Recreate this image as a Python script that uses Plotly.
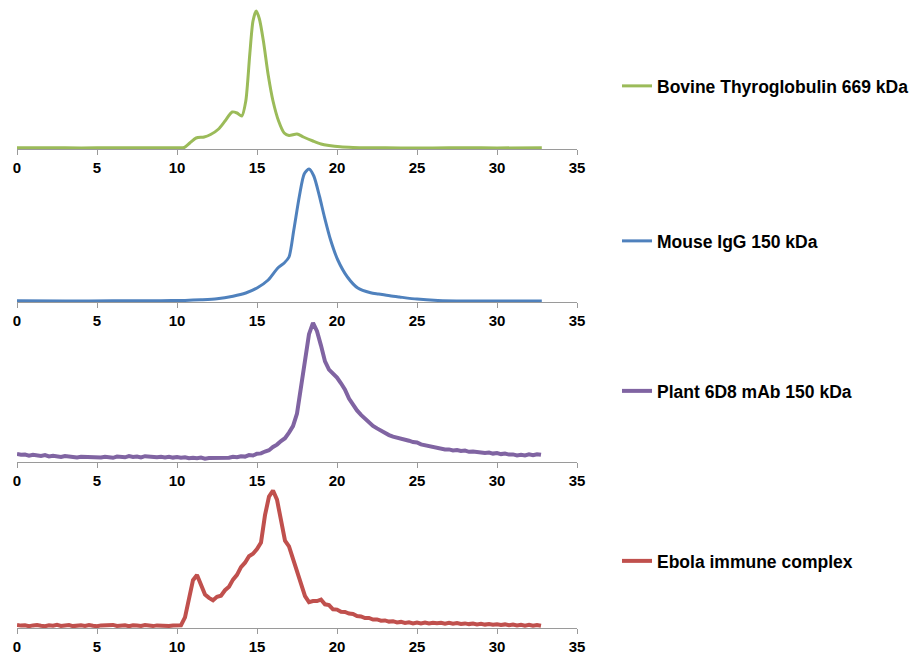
import plotly.graph_objects as go

# Size-exclusion elution profiles (elution volume, arbitrary detector units)

# --- Bovine Thyroglobulin 669 kDa (smooth trace) ---
thyro_t = [0, 2, 4, 6, 8, 10, 10.45, 10.8, 11.2, 11.7, 12.1, 12.6, 13.0, 13.45, 13.75,
           14.05, 14.3, 14.55, 14.75, 14.95, 15.15, 15.4, 15.7, 16.0, 16.35, 16.7, 17.0,
           17.5, 17.9, 18.5, 19.0, 19.5, 20.2, 21, 22, 24, 26, 28, 30, 32.8]
thyro_y = [1.2, 1.3, 1.1, 1.3, 1.2, 1.2, 1.5, 6, 11, 12, 14.5, 20, 28, 37, 36,
           33, 48, 95, 128, 138, 130, 108, 74, 48, 28, 16, 13.5,
           15, 12, 8, 5, 3.5, 2.2, 1.6, 1.3, 1.1, 1.1, 1.2, 1.1, 1.2]

# --- Mouse IgG 150 kDa (smooth trace) ---
igg_t = [0, 3, 6, 9, 10.5, 11.5, 12.5, 13.5, 14.3, 15, 15.7, 16.3, 16.7, 17.0, 17.3,
         17.65, 17.95, 18.25, 18.55, 18.9, 19.2, 19.6, 20.05, 20.65, 21.3, 22.1, 22.6,
         23.3, 23.9, 25, 26.3, 28, 30, 32.8]
igg_y = [1.2, 1.0, 1.2, 1.3, 1.6, 2.2, 3.2, 5.8, 9, 14, 22, 34, 39, 45, 72,
         106, 128, 133, 126, 106, 86, 62, 42, 25, 14, 9.3, 8,
         6.2, 5, 2.9, 1.6, 1.0, 0.9, 1.1]

# --- Plant 6D8 mAb 150 kDa (noisy trace, 0.25 sampling) ---
step = 0.25
mab_y = [8.0, 7.2, 7.5, 6.4, 7.3, 6.8, 6.1, 6.9, 5.6, 6.2, 5.9, 5.0, 6.0, 5.4, 5.8, 4.6,
         5.2, 4.9, 5.6, 4.3, 4.8, 4.5, 5.3, 4.9, 4.2, 5.4, 5.0, 4.7, 5.9, 5.1, 5.5, 4.6,
         5.8, 5.3, 5.6, 4.8, 5.2, 4.5, 5.3, 4.4, 4.9, 4.2, 4.8, 3.8, 4.3, 3.7, 4.4, 3.3,
         3.9, 3.8, 4.6, 3.9, 4.5, 4.2, 5.3, 4.7, 5.8, 5.4, 6.9, 6.5, 8.3, 8.6, 10.5, 11.8,
         15.0, 17.4, 21.0, 23.8, 29.4, 35.9, 48.5, 74.5, 104.5, 127.8,
         139.2, 130.8, 116.4, 100.6, 92.4, 88.3, 84.5, 78.7, 72.4, 63.5,
         57.3, 51.6, 47.1, 43.0, 39.3, 36.1, 33.6, 31.2, 29.4, 26.9,
         25.3, 24.5, 23.4, 22.8, 21.3, 19.9, 19.6, 17.6, 16.8, 15.2,
         15.0, 13.9, 13.6, 12.5, 12.6, 11.6, 12.0, 11.0, 11.4, 10.2,
         10.6, 9.9, 9.6, 9.0, 9.4, 8.4, 8.9, 7.9, 8.5, 7.4,
         7.6, 6.6, 7.3, 6.5, 7.7, 6.8, 7.8, 7.2]

# --- Ebola immune complex (noisy trace, 0.25 sampling) ---
ebola_y = [3.1, 2.4, 2.8, 1.9, 2.6, 3.0, 2.2, 1.8, 2.7, 2.3, 3.2, 2.0, 2.5, 2.9, 1.9,
           2.4, 2.8, 2.1, 3.0, 2.3, 1.8, 2.6, 2.9, 2.2, 3.1, 2.0, 2.4, 2.7, 1.9, 2.8,
           2.5, 2.1, 3.0, 2.4, 1.9, 2.6, 2.3, 2.9, 2.0, 2.6, 2.8,
           2.8, 10.6, 29.4, 47.8, 53.0, 42.7, 33.4, 30.1, 27.8, 31.2,
           32.3, 37.8, 41.3, 48.4, 53.2, 60.9, 65.3, 71.8, 74.2, 78.9,
           85.4, 112.8, 131.4, 137.5, 128.3, 107.8, 87.4, 81.7, 69.2, 57.8,
           42.3, 31.9, 25.8, 26.9, 26.9, 28.3, 23.7, 22.9, 18.7,
           18.4, 16.2, 16.0, 14.4, 14.1, 12.0, 11.6, 9.9, 10.0, 8.4,
           8.6, 7.3, 7.6, 6.4, 6.8, 5.6, 6.1, 5.0, 5.7, 4.6,
           5.5, 4.6, 5.4, 4.5, 5.3, 4.8, 5.2, 4.4, 5.2, 4.3,
           4.9, 4.1, 4.6, 3.9, 4.5, 3.6, 4.2, 3.4, 4.0, 3.2,
           3.8, 3.0, 3.6, 2.8, 3.4, 2.6, 3.2, 2.4, 3.1, 2.2, 2.9, 2.2]

mab_t = [round(i * step, 2) for i in range(len(mab_y))]
ebola_t = [round(i * step, 2) for i in range(len(ebola_y))]

names = ["Bovine Thyroglobulin 669 kDa", "Mouse IgG 150 kDa",
         "Plant 6D8 mAb 150 kDa", "Ebola immune complex"]
colors = ["#9BBB59", "#4F81BD", "#8064A2", "#C0504D"]
x_ticks = [0, 5, 10, 15, 20, 25, 30, 35]

series = [(thyro_t, thyro_y, "spline", 3),
          (igg_t, igg_y, "spline", 3),
          (mab_t, mab_y, "linear", 4),
          (ebola_t, ebola_y, "linear", 4)]

# figure and panel geometry in pixels: (top, axis line, bottom) and legend row
W, H = 920, 655
ML, MR = 17, 343
panels = [(0, 149, 152.5), (160, 302, 306), (315, 462, 466), (480, 628, 632)]
legend_rows = [86, 241, 391, 561]
legend_left = 617

fig = go.Figure()
layout = dict(
    width=W, height=H, autosize=False,
    margin=dict(l=ML, r=MR, t=0, b=0),
    paper_bgcolor="white", plot_bgcolor="white",
    font=dict(family="Liberation Sans, Arial, sans-serif", color="black"),
    showlegend=True,
)

for i, ((t, y, shape, lw), name, col, (top, axis_px, bot), ly) in enumerate(
        zip(series, names, colors, panels, legend_rows)):
    sfx = "" if i == 0 else str(i + 1)
    leg = "legend" if i == 0 else f"legend{i + 1}"
    fig.add_trace(go.Scatter(
        x=t, y=y, mode="lines", name=name,
        line=dict(color=col, width=lw, shape=shape, smoothing=0.7),
        xaxis="x" + sfx, yaxis="y" + sfx, legend=leg,
    ))
    layout["xaxis" + sfx] = dict(
        range=[0, 35], tickvals=x_ticks, anchor="free",
        position=(H - axis_px) / H,
        showline=True, linecolor="#9a9a9a", linewidth=1,
        ticks="outside", ticklen=5, tickcolor="#9a9a9a",
        showgrid=False, zeroline=False,
        tickfont=dict(size=15, family="Liberation Sans, Arial, sans-serif",
                      color="black", weight="bold"),
    )
    layout["yaxis" + sfx] = dict(
        domain=[(H - bot) / H, (H - top) / H],
        range=[-(bot - axis_px), axis_px - top],
        visible=False, showgrid=False, zeroline=False,
    )
    layout[leg] = dict(
        x=(legend_left - ML) / (W - ML - MR), y=(H - ly) / H,
        xanchor="left", yanchor="middle",
        bgcolor="rgba(0,0,0,0)", borderwidth=0,
        font=dict(size=17.5, family="Liberation Sans, Arial, sans-serif",
                  color="black", weight="bold"),
    )

fig.update_layout(**layout)
fig.write_html("out.html")
